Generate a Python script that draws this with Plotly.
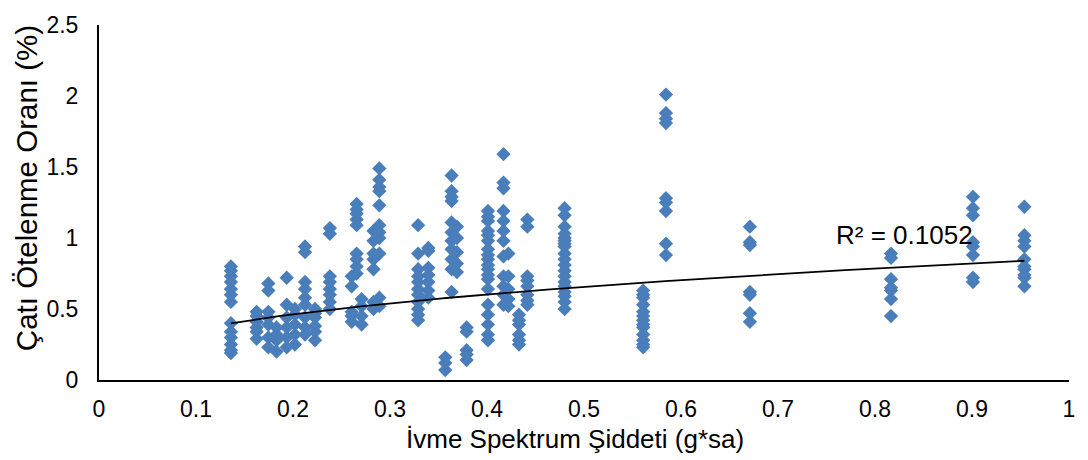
import numpy as np
import plotly.graph_objects as go

# Column positions (İvme Spektrum Şiddeti, g*sa) and the roof drift values read per column
column_x = [0.136, 0.1625, 0.1746, 0.183, 0.1935, 0.202, 0.2124, 0.2227, 0.238, 0.2605,
            0.2656, 0.2707, 0.283, 0.289, 0.329, 0.3395, 0.357, 0.3635, 0.369, 0.379,
            0.401, 0.417, 0.422, 0.433, 0.4416, 0.480, 0.561, 0.5845, 0.671, 0.8165,
            0.901, 0.954]
column_y = [
    [0.80, 0.77, 0.73, 0.69, 0.64, 0.60, 0.55, 0.40, 0.34, 0.30, 0.25, 0.21, 0.19],
    [0.48, 0.41, 0.34, 0.29, 0.45, 0.37],
    [0.68, 0.63, 0.48, 0.39, 0.30, 0.23, 0.44],
    [0.37, 0.28, 0.20, 0.32],
    [0.72, 0.53, 0.44, 0.37, 0.30, 0.23],
    [0.46, 0.39, 0.32, 0.25, 0.50],
    [0.94, 0.90, 0.69, 0.64, 0.58, 0.53, 0.44, 0.37, 0.32],
    [0.50, 0.44, 0.34, 0.28, 0.47, 0.38],
    [1.07, 1.03, 0.73, 0.69, 0.64, 0.60, 0.55, 0.50],
    [0.73, 0.66, 0.48, 0.41, 0.45],
    [1.24, 1.20, 1.17, 1.13, 1.09, 0.89, 0.85, 0.80, 0.75],
    [0.57, 0.39, 0.52, 0.45],
    [1.05, 0.98, 0.89, 0.85, 0.78, 0.55, 0.50],
    [1.49, 1.41, 1.36, 1.33, 1.23, 1.09, 1.04, 1.00, 0.89, 0.58, 0.52],
    [1.09, 0.89, 0.78, 0.73, 0.69, 0.64, 0.60, 0.55, 0.50, 0.46, 0.42],
    [0.93, 0.79, 0.74, 0.69, 0.63, 0.58, 0.91],
    [0.16, 0.07, 0.12],
    [1.44, 1.33, 1.29, 1.26, 1.11, 1.04, 0.98, 0.92, 0.85, 0.78, 0.62],
    [1.08, 1.00, 0.90, 0.82, 0.76],
    [0.34, 0.21, 0.14, 0.37, 0.18],
    [1.19, 1.12, 1.05, 0.98, 0.92, 0.85, 0.78, 0.71, 0.64, 0.53, 0.46, 0.39, 0.32, 0.28,
     1.15, 1.02, 0.88, 0.81, 0.74],
    [1.59, 1.39, 1.35, 1.19, 1.12, 1.05, 0.98, 0.87, 0.73, 0.66, 0.60, 0.53],
    [0.73, 0.64, 0.57, 0.52, 0.89],
    [0.46, 0.39, 0.32, 0.25, 0.42, 0.28],
    [1.13, 1.08, 0.73, 0.66, 0.60, 0.53, 0.70, 0.56],
    [1.21, 1.16, 1.08, 1.03, 0.98, 0.94, 0.89, 0.81, 0.73, 0.69, 0.62, 0.55, 0.50,
     1.00, 0.96, 0.85, 0.77, 0.66, 0.59],
    [0.63, 0.58, 0.53, 0.48, 0.42, 0.37, 0.32, 0.25, 0.23, 0.45, 0.39, 0.28, 0.60],
    [2.01, 1.88, 1.84, 1.81, 1.28, 1.25, 1.19, 0.96, 0.88],
    [1.08, 0.97, 0.95, 0.62, 0.60, 0.47, 0.41],
    [0.89, 0.86, 0.71, 0.65, 0.63, 0.57, 0.45],
    [1.29, 1.21, 1.16, 0.97, 0.94, 0.88, 0.72, 0.69],
    [1.22, 1.02, 0.98, 0.94, 0.85, 0.80, 0.78, 0.74, 0.72, 0.66],
]

# Power trendline y = a * x^b (Excel-style), coefficients
trend_a = 0.855
trend_b = 0.382
r2_label = "R² = 0.1052"

x_tick_vals = [0, 0.1, 0.2, 0.3, 0.4, 0.5, 0.6, 0.7, 0.8, 0.9, 1]
x_tick_text = ["0", "0.1", "0.2", "0.3", "0.4", "0.5", "0.6", "0.7", "0.8", "0.9", "1"]
y_tick_vals = [0, 0.5, 1, 1.5, 2, 2.5]
y_tick_text = ["0", "0.5", "1", "1.5", "2", "2.5"]

x_title = "İvme Spektrum Şiddeti (g*sa)"
y_title = "Çatı Ötelenme Oranı (%)"

xs = [cx for cx, ys in zip(column_x, column_y) for _ in ys]
ys_all = [v for ys in column_y for v in ys]

FONT = "Liberation Sans, Arial, sans-serif"

fig = go.Figure()
fig.add_trace(go.Scatter(
    x=xs, y=ys_all, mode="markers",
    marker=dict(symbol="diamond", size=11, color="#4a7ebb", line=dict(width=0)),
    showlegend=False, hoverinfo="x+y",
))

tx = np.linspace(min(xs), max(xs), 200)
ty = trend_a * tx ** trend_b
fig.add_trace(go.Scatter(
    x=tx, y=ty, mode="lines", line=dict(color="black", width=1.8),
    showlegend=False, hoverinfo="skip",
))

fig.add_annotation(x=0.903, y=1.02, xref="x", yref="y", text=r2_label,
                   showarrow=False, xanchor="right", yanchor="middle",
                   font=dict(family=FONT, size=26, color="black"))

fig.add_annotation(x=0.491, y=-0.165, xref="paper", yref="paper", text=x_title,
                   showarrow=False, xanchor="center", yanchor="middle",
                   font=dict(family=FONT, size=26, color="black"))
fig.add_annotation(x=-0.074, y=0.541, xref="paper", yref="paper", text=y_title,
                   textangle=-90, showarrow=False, xanchor="center", yanchor="middle",
                   font=dict(family=FONT, size=29.5, color="black"))

fig.update_layout(
    width=1088, height=460,
    margin=dict(l=99, r=19, t=16, b=80),
    paper_bgcolor="white", plot_bgcolor="white",
    font=dict(family=FONT, size=23, color="black"),
    xaxis=dict(range=[0, 1], tickvals=x_tick_vals, ticktext=x_tick_text,
               showgrid=False, zeroline=False, showline=True, linecolor="black",
               linewidth=2, ticks="", ticklabelstandoff=7,
               tickfont=dict(family=FONT, size=23, color="black")),
    yaxis=dict(range=[0, 2.5], tickvals=y_tick_vals, ticktext=y_tick_text,
               showgrid=False, zeroline=False, showline=True, linecolor="black",
               linewidth=2, ticks="", ticklabelstandoff=14,
               tickfont=dict(family=FONT, size=23, color="black")),
)

fig.write_html("out.html")
